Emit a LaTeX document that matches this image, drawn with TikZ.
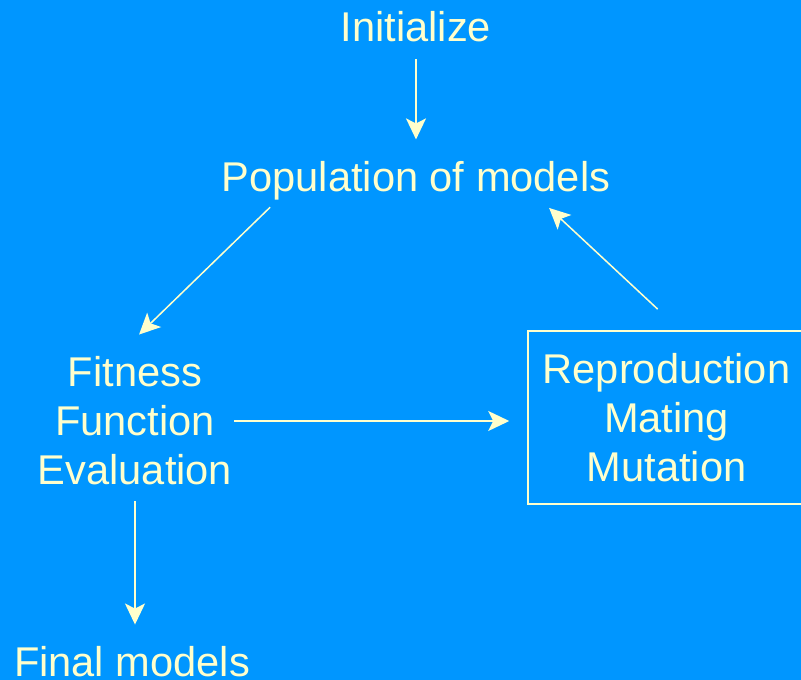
\documentclass[tikz,border=0pt]{standalone}
\usepackage{fontspec}
\setmainfont{Liberation Sans}
\usetikzlibrary{arrows.meta}
\definecolor{bgblue}{RGB}{0,150,255}
\definecolor{cream}{RGB}{255,255,204}
\begin{document}
\begin{tikzpicture}[x=1pt,y=-1pt,
  lbl/.style={text=cream,font=\fontsize{41.6}{49}\selectfont,align=center,inner sep=6pt},
  flow/.style={draw=cream,line width=1.5pt,-{Stealth[length=21pt,width=20pt,inset=5pt]}},
  opbox/.style={lbl,draw=cream,line width=1.5pt,minimum width=277pt,minimum height=173pt}]
  % canvas
  \fill[bgblue] (0,0) rectangle (801,680);
  \useasboundingbox (0,0) rectangle (801,680);
  % stages of the loop
  \node[lbl] (init) at (416,27) {Initialize};
  \node[lbl] (pop) at (416,181) {Population of models};
  \node[lbl] (fit) at (135,421) {Fitness\\Function\\Evaluation};
  \node[opbox] (ops) at (666.5,417.5) {Reproduction\\Mating\\Mutation};
  \node[lbl] (final) at (132,662) {Final models};
  % connectors
  \draw[flow, shorten <=11pt, shorten >=16pt] (init) -- (pop);
  \draw[flow, shorten <=1pt, shorten >=23pt] (pop.190) -- (fit.100.5);
  \draw[flow, shorten <=-4pt, shorten >=18pt] (fit.east) -- (fit.east -| ops.west);
  \draw[flow, shorten <=10pt, shorten >=16pt] (fit.south) -- (fit.south |- final.north);
  \draw[flow, shorten <=31pt, shorten >=2pt] (ops.81) -- (pop.-11);
\end{tikzpicture}
\end{document}
